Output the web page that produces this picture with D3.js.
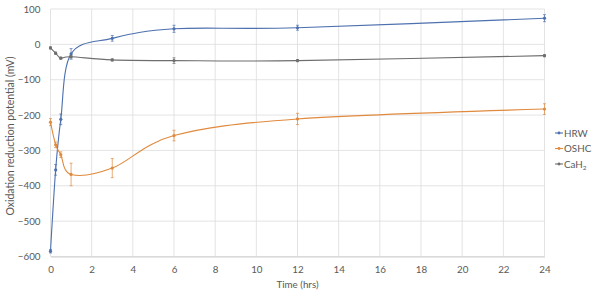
<!DOCTYPE html>
<html>
<head>
<meta charset="utf-8">
<script src="https://cdn.jsdelivr.net/npm/d3@7"></script>
<style>
  body { margin: 0; background: #fff; }
  text { font-family: Lato, "Open Sans", sans-serif; fill: #595959; }
</style>
</head>
<body>
<svg id="chart" width="600" height="298"></svg>
<script>
// time points (hrs)
var times = [0, 0.25, 0.5, 1, 3, 6, 12, 24];

// ORP values (mV) and error bars
var hrw = [-585, -355, -212, -27, 17, 44, 47, 74];
var hrwErr = [5, 15, 15, 15, 8, 10, 7, 10];
var oshc = [-220, -284, -312, -368, -350, -258, -211, -183];
var oshcErr = [10, 8, 8, 32, 27, 15, 16, 15];
var cah2 = [-10, -25, -39, -35, -44, -46, -46, -32];
var cah2Err = [3, 3, 3, 3, 3, 8, 3, 3];

var xTicks = d3.range(0, 25, 2);
var yTicks = d3.range(-600, 101, 100);

var series = [
    { name: "HRW", values: hrw, err: hrwErr, color: "#4D70AE" },
    { name: "OSHC", values: oshc, err: oshcErr, color: "#E08A3E" },
    { name: "CaH2", values: cah2, err: cah2Err, color: "#6E6E6E" }
];

var svg = d3.select("#chart");

var x = d3.scaleLinear().domain([0, 24]).range([50.5, 544.5]);
var y = d3.scaleLinear().domain([-600, 100]).range([256.5, 9]);

// gridlines
svg.append("g").selectAll("line.v")
    .data(xTicks).enter().append("line")
    .attr("x1", function(d) { return x(d); })
    .attr("x2", function(d) { return x(d); })
    .attr("y1", y(100)).attr("y2", y(-600))
    .attr("stroke", "#DCDCDC").attr("stroke-width", 0.8);

svg.append("g").selectAll("line.h")
    .data(yTicks).enter().append("line")
    .attr("x1", x(0)).attr("x2", x(24))
    .attr("y1", function(d) { return y(d); })
    .attr("y2", function(d) { return y(d); })
    .attr("stroke", "#DCDCDC").attr("stroke-width", 0.8);

// axes labels
var xAxis = svg.append("g")
    .attr("transform", "translate(0," + y(-600) + ")")
    .call(d3.axisBottom(x).tickValues(xTicks).tickSize(0).tickPadding(10));
xAxis.select(".domain").attr("stroke", "#D0D0D0");
xAxis.selectAll("text").style("font-size", "9.8px").attr("fill", "#595959")
    .style("font-family", "Lato, sans-serif");

var yAxis = svg.append("g")
    .attr("transform", "translate(" + x(0) + ",0)")
    .call(d3.axisLeft(y).tickValues(yTicks).tickSize(0).tickPadding(10));
yAxis.select(".domain").remove();
yAxis.selectAll("text").style("font-size", "9.8px").attr("fill", "#595959")
    .style("font-family", "Lato, sans-serif");

// axis titles
svg.append("text")
    .attr("x", (x(0) + x(24)) / 2).attr("y", 288)
    .attr("text-anchor", "middle")
    .style("font-size", "9.8px")
    .text("Time (hrs)");

svg.append("text")
    .attr("transform", "translate(14,136) rotate(-90)")
    .attr("text-anchor", "middle")
    .style("font-size", "10.5px")
    .text("Oxidation reduction potential (mV)");

// lines
var line = d3.line()
    .x(function(d) { return x(d[0]); })
    .y(function(d) { return y(d[1]); })
    .curve(d3.curveCardinal.tension(0));

series.forEach(function(s) {
    var pts = times.map(function(t, i) { return [t, s.values[i]]; });
    var g = svg.append("g");

    g.append("path")
        .datum(pts)
        .attr("d", line)
        .attr("fill", "none")
        .attr("stroke", s.color)
        .attr("stroke-width", 1.1);

    // error bars
    var eb = g.selectAll("g.err").data(pts).enter().append("g");
    eb.append("line")
        .attr("x1", function(d) { return x(d[0]); })
        .attr("x2", function(d) { return x(d[0]); })
        .attr("y1", function(d, i) { return y(d[1] + s.err[i]); })
        .attr("y2", function(d, i) { return y(d[1] - s.err[i]); })
        .attr("stroke", s.color).attr("stroke-width", 0.7);
    [1, -1].forEach(function(sign) {
        eb.append("line")
            .attr("x1", function(d) { return x(d[0]) - 1.5; })
            .attr("x2", function(d) { return x(d[0]) + 1.5; })
            .attr("y1", function(d, i) { return y(d[1] + sign * s.err[i]); })
            .attr("y2", function(d, i) { return y(d[1] + sign * s.err[i]); })
            .attr("stroke", s.color).attr("stroke-width", 0.7);
    });

    // markers
    g.selectAll("circle").data(pts).enter().append("circle")
        .attr("cx", function(d) { return x(d[0]); })
        .attr("cy", function(d) { return y(d[1]); })
        .attr("r", 1.6)
        .attr("fill", s.color);
});

// legend
var legend = svg.append("g");
series.forEach(function(s, i) {
    var ly = 133 + i * 15.5;
    legend.append("line")
        .attr("x1", 555).attr("x2", 563)
        .attr("y1", ly).attr("y2", ly)
        .attr("stroke", s.color).attr("stroke-width", 1.1);
    legend.append("circle")
        .attr("cx", 559).attr("cy", ly).attr("r", 1.4).attr("fill", s.color);
    var t = legend.append("text")
        .attr("x", 564).attr("y", ly + 3.5)
        .style("font-size", "9.8px");
    if (s.name === "CaH2") {
        t.append("tspan").text("CaH");
        t.append("tspan").attr("dy", 2).style("font-size", "6.5px").text("2");
    } else {
        t.text(s.name);
    }
});
</script>
</body>
</html>
